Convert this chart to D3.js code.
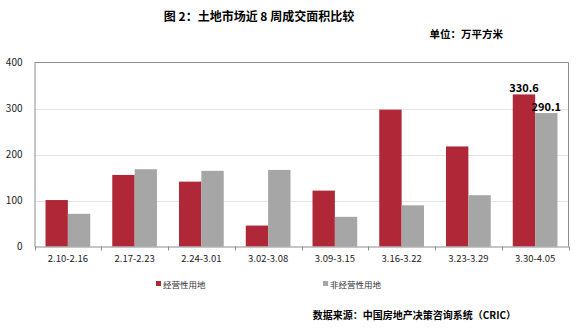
<!DOCTYPE html>
<html><head><meta charset="utf-8">
<script src="https://cdn.jsdelivr.net/npm/d3@7"></script>
<style>body{margin:0;background:#fff;}svg{display:block;}</style>
</head><body><svg id="c" width="585" height="329"></svg>
<script>
const categories = ["2.10-2.16","2.17-2.23","2.24-3.01","3.02-3.08","3.09-3.15","3.16-3.22","3.23-3.29","3.30-4.05"];
const seriesNames = ["经营性用地","非经营性用地"];
const operating = [101, 155.5, 141, 45.5, 121.5, 297.5, 217.5, 330.6];
const nonOperating = [71, 168, 164.5, 166.5, 64.5, 89.5, 111.5, 290.1];
const yTicks = [0, 100, 200, 300, 400];
const colors = ["#B02838", "#A6A6A6"];
const font = "'Noto Sans CJK SC', 'Microsoft YaHei', sans-serif";

const svg = d3.select("#c");
const m = {l: 34.5, r: 568.5, t: 62.5, b: 246.5};
const x = d3.scaleBand().domain(categories).range([m.l, m.r]).paddingInner(0.33).paddingOuter(0.165);
const xo = d3.scaleBand().domain(categories).range([m.l, m.r]);
const y = d3.scaleLinear().domain([0, 400]).range([m.b, m.t]);
const xs = d3.scaleBand().domain(seriesNames).range([0, x.bandwidth()]);

// grid
svg.append("g").selectAll("line").data(yTicks.filter(d => d > 0 && d < 400)).join("line")
  .attr("x1", m.l).attr("x2", m.r).attr("y1", d => Math.round(y(d)) + 0.5).attr("y2", d => Math.round(y(d)) + 0.5)
  .attr("stroke", "#C8C8C8").attr("stroke-dasharray", "1,1");
// border top/right
svg.append("path").attr("d", `M${m.l},${m.t}H${m.r}V${m.b}`).attr("fill", "none").attr("stroke", "#8C8C8C");

const data = [operating, nonOperating];
const g = svg.append("g");
data.forEach((arr, si) => {
  g.selectAll(".s" + si).data(arr).join("rect")
    .attr("x", (d, i) => x(categories[i]) + xs(seriesNames[si]))
    .attr("y", d => y(d)).attr("width", xs.bandwidth()).attr("height", d => y(0) - y(d))
    .attr("fill", colors[si]);
});

// labels on last category
const last = categories.length - 1;
[0, 1].forEach(si => {
  const v = data[si][last];
  svg.append("text").attr("x", x(categories[last]) + xs(seriesNames[si]) + xs.bandwidth() / 2)
    .attr("y", y(v) - 2).attr("text-anchor", "middle")
    .attr("font-family", font).attr("font-size", 11).attr("font-weight", "bold").attr("fill", "#000")
    .text(v.toFixed(1));
});

// y axis
const ya = d3.axisLeft(y).tickValues(yTicks).tickSize(0).tickPadding(12);
const yg = svg.append("g").attr("transform", `translate(${m.l},0)`).call(ya);
yg.select(".domain").attr("stroke", "#8C8C8C");
yg.selectAll("text").attr("font-family", font).attr("font-size", 10).attr("fill", "#222");

// x axis
const xa = d3.axisBottom(xo).tickSize(0).tickPadding(9);
const xg = svg.append("g").attr("transform", `translate(0,${m.b})`).call(xa);
xg.select(".domain").attr("stroke", "#8C8C8C");
xg.selectAll("text").attr("font-family", font).attr("font-size", 9.5).attr("fill", "#222");
xg.selectAll(".bt").data(categories.concat([null])).join("line")
  .attr("x1", (d, i) => Math.round(m.l + i * xo.step()) + 0.5).attr("x2", (d, i) => Math.round(m.l + i * xo.step()) + 0.5)
  .attr("y1", 0).attr("y2", 4).attr("stroke", "#8C8C8C");

// title
svg.append("text").attr("x", 259).attr("y", 21).attr("text-anchor", "middle")
  .attr("font-family", font).attr("font-size", 12).attr("font-weight", "bold").text("图 2：土地市场近 8 周成交面积比较");
svg.append("text").attr("x", 503).attr("y", 38).attr("text-anchor", "end")
  .attr("font-family", font).attr("font-size", 10.5).attr("font-weight", "bold").text("单位：万平方米");

// legend
const lx = [156, 323];
seriesNames.forEach((s, i) => {
  svg.append("rect").attr("x", lx[i]).attr("y", 281).attr("width", 5).attr("height", 5).attr("fill", colors[i]);
  svg.append("text").attr("x", lx[i] + 7).attr("y", 287.5).attr("font-family", font).attr("font-size", 8.5)
    .attr("fill", "#333").text(s);
});

svg.append("text").attr("x", 516).attr("y", 319).attr("text-anchor", "end")
  .attr("font-family", font).attr("font-size", 10).attr("font-weight", "bold").text("数据来源：中国房地产决策咨询系统（CRIC）");
</script></body></html>
